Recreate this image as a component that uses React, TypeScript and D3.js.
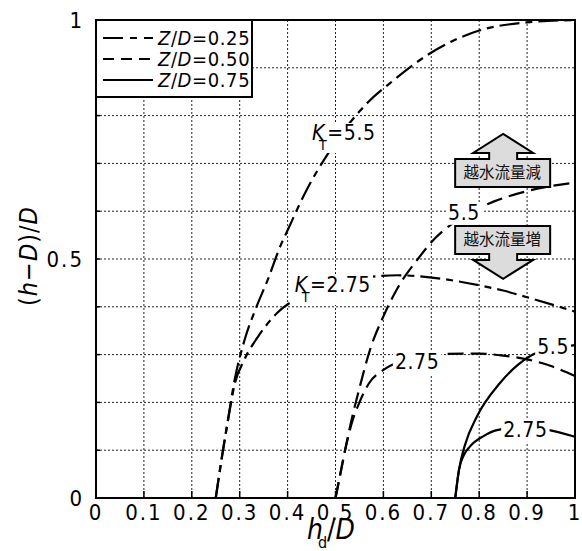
import React, { useEffect, useRef } from "react";
import * as d3 from "d3";

const W = 582;
const H = 551;
const margin = { left: 96, right: 7, top: 20, bottom: 53 };

const FONT = "'Liberation Sans Narrow', 'DejaVu Sans Condensed', 'Noto Sans CJK JP', sans-serif";
const CJK = "'Noto Sans CJK JP', 'Noto Sans CJK SC', sans-serif";

// axes
const gridValues = [0, 0.1, 0.2, 0.3, 0.4, 0.5, 0.6, 0.7, 0.8, 0.9, 1];
const xTickLabels = ["0", "0.1", "0.2", "0.3", "0.4", "0.5", "0.6", "0.7", "0.8", "0.9", "1"];
const yLabelValues = [0, 0.5, 1];
const yTickLabels = ["0", "0.5", "1"];

// Z/D = 0.25  (dash-dot)
const zd025Kt55: [number, number][] = [
  [0.25, 0], [0.262, 0.08], [0.275, 0.16], [0.29, 0.25], [0.31, 0.33], [0.335, 0.4],
  [0.36, 0.46], [0.384, 0.525], [0.4, 0.56], [0.44, 0.645], [0.484, 0.72], [0.53, 0.785],
  [0.57, 0.83], [0.614, 0.868], [0.697, 0.93], [0.8, 0.978], [0.9, 0.995], [1.0, 1.0],
];
const zd025Kt275: [number, number][] = [
  [0.25, 0], [0.262, 0.08], [0.275, 0.16], [0.29, 0.24], [0.31, 0.29], [0.34, 0.34],
  [0.378, 0.387], [0.42, 0.418], [0.49, 0.448], [0.566, 0.462], [0.63, 0.466],
  [0.71, 0.46], [0.8, 0.445], [0.85, 0.434], [0.9, 0.42], [1.0, 0.39],
];

// Z/D = 0.50  (dashed)
const zd050Kt55: [number, number][] = [
  [0.5, 0], [0.51, 0.05], [0.52, 0.1], [0.535, 0.17], [0.55, 0.23], [0.572, 0.31],
  [0.6, 0.38], [0.63, 0.44], [0.672, 0.5], [0.7, 0.535], [0.76, 0.585], [0.83, 0.62],
  [0.9, 0.642], [1.0, 0.66],
];
const zd050Kt275: [number, number][] = [
  [0.5, 0], [0.51, 0.05], [0.52, 0.1], [0.535, 0.16], [0.55, 0.2], [0.57, 0.24],
  [0.6, 0.268], [0.66, 0.292], [0.72, 0.301], [0.8, 0.302], [0.85, 0.298], [0.9, 0.29],
  [0.95, 0.276], [1.0, 0.255],
];

// Z/D = 0.75  (solid)
const zd075Kt55: [number, number][] = [
  [0.75, 0], [0.758, 0.06], [0.77, 0.11], [0.795, 0.17], [0.843, 0.24], [0.88, 0.278],
  [0.912, 0.3], [0.95, 0.312], [1.0, 0.32],
];
const zd075Kt275: [number, number][] = [
  [0.75, 0], [0.758, 0.06], [0.768, 0.09], [0.78, 0.107], [0.81, 0.13], [0.837, 0.142],
  [0.89, 0.148], [0.94, 0.143], [1.0, 0.128],
];

const series = [
  { name: "0.25", values: zd025Kt55, dash: "20,6,7,6" },
  { name: "0.25", values: zd025Kt275, dash: "20,6,7,6" },
  { name: "0.50", values: zd050Kt55, dash: "16,7" },
  { name: "0.50", values: zd050Kt275, dash: "16,7" },
  { name: "0.75", values: zd075Kt55, dash: null },
  { name: "0.75", values: zd075Kt275, dash: null },
];

// curve labels: position = left / baseline in data units
const curveLabels = [
  { x: 0.451, y: 0.749, kt: true, text: "=5.5" },
  { x: 0.415, y: 0.431, kt: true, text: "=2.75" },
  { x: 0.735, y: 0.582, kt: false, text: "5.5" },
  { x: 0.624, y: 0.27, kt: false, text: "2.75" },
  { x: 0.921, y: 0.301, kt: false, text: "5.5" },
  { x: 0.85, y: 0.128, kt: false, text: "2.75" },
];

const legendItems = ["0.25", "0.50", "0.75"];
const legendDash = ["20,7,7,7", "11,7", null];

const arrows = [
  { x: 0.85, y: 0.68, up: true, text: "越水流量減" },
  { x: 0.85, y: 0.54, up: false, text: "越水流量増" },
];

const App = () => {
  const svgRef = useRef<SVGSVGElement>(null);

  useEffect(() => {
    const x = d3.scaleLinear().domain([0, 1]).range([margin.left, W - margin.right]);
    const y = d3.scaleLinear().domain([0, 1]).range([H - margin.bottom, margin.top]);

    const svg = d3.select(svgRef.current);
    svg.selectAll("*").remove();

    svg.append("rect").attr("width", W).attr("height", H).attr("fill", "#fff");

    // dotted grid
    const grid = svg.append("g").attr("stroke", "#222").attr("stroke-width", 1).attr("stroke-dasharray", "2,2");
    gridValues.slice(1, -1).forEach((v) => {
      grid.append("line").attr("x1", x(v)).attr("x2", x(v)).attr("y1", y(0)).attr("y2", y(1));
      grid.append("line").attr("x1", x(0)).attr("x2", x(1)).attr("y1", y(v)).attr("y2", y(v));
    });

    // ticks (inward)
    const ticks = svg.append("g").attr("stroke", "#000").attr("stroke-width", 1.5);
    gridValues.forEach((v) => {
      ticks.append("line").attr("x1", x(v)).attr("x2", x(v)).attr("y1", y(0)).attr("y2", y(0) - 7);
      ticks.append("line").attr("x1", x(0)).attr("x2", x(0) + 4).attr("y1", y(v)).attr("y2", y(v));
    });

    // curves
    const line = d3
      .line<[number, number]>()
      .x((d) => x(d[0]))
      .y((d) => y(d[1]))
      .curve(d3.curveMonotoneX);

    svg
      .selectAll(".curve")
      .data(series)
      .enter()
      .append("path")
      .attr("fill", "none")
      .attr("stroke", "#000")
      .attr("stroke-width", 2.2)
      .attr("stroke-dasharray", (d) => d.dash)
      .attr("d", (d) => line(d.values));

    // curve labels with white background
    curveLabels.forEach((l) => {
      const g = svg.append("g").attr("transform", `translate(${x(l.x)},${y(l.y)})`);
      const bg = g.append("rect").attr("fill", "#fff");
      const t = g.append("text").attr("font-family", FONT).attr("font-size", 21).attr("letter-spacing", 0.6);
      if (l.kt) {
        t.append("tspan").attr("font-style", "italic").text("K");
        t.append("tspan").attr("font-size", 14).attr("dx", -6).attr("dy", 10).text("T");
        t.append("tspan").attr("dy", -10).attr("dx", 0).text(l.text);
      } else {
        t.text(l.text);
      }
      const b = (t.node() as SVGTextElement).getBBox();
      bg.attr("x", b.x - 2).attr("y", b.y + 2).attr("width", b.width + 4).attr("height", b.height - 2);
    });

    // arrows
    arrows.forEach((a) => {
      const cx = x(a.x);
      const cy = y(a.y);
      const s = a.up ? 1 : -1;
      const top = cy - 14 * s;
      const p = d3.path();
      p.moveTo(cx - 48, cy + 14 * s);
      p.lineTo(cx - 48, top);
      p.lineTo(cx - 14, top);
      p.lineTo(cx - 14, top - 6 * s);
      p.lineTo(cx - 30, top - 6 * s);
      p.lineTo(cx, top - 25 * s);
      p.lineTo(cx + 30, top - 6 * s);
      p.lineTo(cx + 14, top - 6 * s);
      p.lineTo(cx + 14, top);
      p.lineTo(cx + 47, top);
      p.lineTo(cx + 47, cy + 14 * s);
      p.closePath();
      svg.append("path").attr("d", p.toString()).attr("fill", "#dcdcdc").attr("stroke", "#000").attr("stroke-width", 2);
      svg
        .append("text")
        .attr("x", cx - 1)
        .attr("y", cy)
        .attr("dy", "0.35em")
        .attr("text-anchor", "middle")
        .attr("font-family", CJK)
        .attr("font-size", 15.5)
        .attr("fill", "#111")
        .text(a.text);
    });

    // legend
    const lg = svg.append("g");
    lg.append("rect").attr("x", x(0)).attr("y", y(1)).attr("width", 156).attr("height", 77)
      .attr("fill", "#fff").attr("stroke", "#000").attr("stroke-width", 2);
    legendItems.forEach((name, i) => {
      const ly = y(1) + 18 + i * 21;
      lg.append("line").attr("x1", 103).attr("x2", 153).attr("y1", ly).attr("y2", ly)
        .attr("stroke", "#000").attr("stroke-width", 2.2).attr("stroke-dasharray", legendDash[i]);
      const t = lg.append("text").attr("x", 158).attr("y", ly + 7).attr("font-family", FONT)
        .attr("font-size", 20).attr("letter-spacing", 0.6);
      t.append("tspan").attr("font-style", "italic").text("Z");
      t.append("tspan").text("/");
      t.append("tspan").attr("font-style", "italic").text("D");
      t.append("tspan").text("=" + name);
    });

    // frame
    svg.append("rect").attr("x", x(0)).attr("y", y(1)).attr("width", x(1) - x(0)).attr("height", y(0) - y(1))
      .attr("fill", "none").attr("stroke", "#000").attr("stroke-width", 2);

    // tick labels
    svg.append("g").selectAll("text").data(gridValues).enter().append("text")
      .attr("x", (d) => x(d)).attr("y", y(0) + 22).attr("text-anchor", "middle")
      .attr("font-family", FONT).attr("font-size", 22).attr("letter-spacing", 2)
      .text((d, i) => xTickLabels[i]);
    svg.append("g").selectAll("text").data(yLabelValues).enter().append("text")
      .attr("x", x(0) - 12).attr("y", (d) => y(d)).attr("dy", "0.36em").attr("text-anchor", "end")
      .attr("font-family", FONT).attr("font-size", 22).attr("letter-spacing", 2)
      .text((d, i) => yTickLabels[i]);

    // axis titles
    const xt = svg.append("text").attr("x", 307).attr("y", 539).attr("font-family", FONT).attr("font-size", 28);
    xt.append("tspan").attr("font-style", "italic").text("h");
    xt.append("tspan").attr("font-size", 16).attr("dx", -5).attr("dy", 9).text("d");
    xt.append("tspan").attr("dy", -9).text("/");
    xt.append("tspan").attr("font-style", "italic").text("D");

    const yt = svg.append("text").attr("transform", "translate(37,256) rotate(-90)")
      .attr("text-anchor", "middle").attr("font-family", FONT).attr("font-size", 25).attr("letter-spacing", 1);
    yt.append("tspan").text("(");
    yt.append("tspan").attr("font-style", "italic").text("h");
    yt.append("tspan").text("\u2212");
    yt.append("tspan").attr("font-style", "italic").text("D");
    yt.append("tspan").text(")/");
    yt.append("tspan").attr("font-style", "italic").text("D");
  }, []);

  return (
    <svg
      ref={svgRef}
      width={W}
      height={H}
      style={{ position: "absolute", left: 0, top: 0, display: "block" }}
    />
  );
};

export default App;
